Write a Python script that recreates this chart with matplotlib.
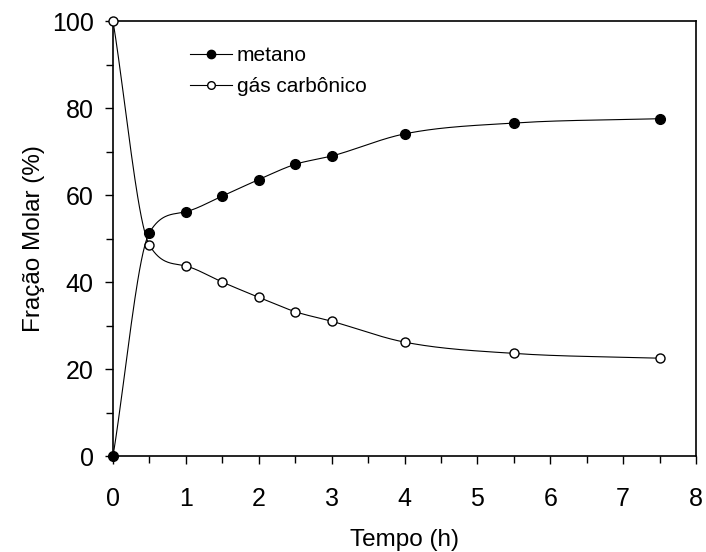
import matplotlib
matplotlib.use("Agg")
import matplotlib.pyplot as plt
import numpy as np

# --- data ---
tempo = [0, 0.5, 1, 1.5, 2, 2.5, 3, 4, 5.5, 7.5]
metano = [0, 51.4, 56.2, 59.8, 63.6, 67.1, 69.0, 74.1, 76.6, 77.6]
gas_carbonico = [100, 48.5, 43.7, 40.0, 36.5, 33.2, 31.0, 26.2, 23.6, 22.5]

x_ticks = [0, 1, 2, 3, 4, 5, 6, 7, 8]
y_ticks = [0, 20, 40, 60, 80, 100]


def smooth_curve(x, y, n=600):
    """Monotone (Fritsch-Carlson) cubic through the points, for the drawn line."""
    x = np.asarray(x, float)
    y = np.asarray(y, float)
    h = np.diff(x)
    d = np.diff(y) / h
    m = np.empty_like(y)
    m[0], m[-1] = d[0], d[-1]
    m[1:-1] = (d[:-1] + d[1:]) / 2
    for k in range(len(d)):
        if d[k] == 0:
            m[k] = m[k + 1] = 0
            continue
        a, b = m[k] / d[k], m[k + 1] / d[k]
        s = a * a + b * b
        if s > 9:
            t = 3 / np.sqrt(s)
            m[k], m[k + 1] = t * a * d[k], t * b * d[k]
    xs = np.linspace(x[0], x[-1], n)
    i = np.clip(np.searchsorted(x, xs) - 1, 0, len(x) - 2)
    t = (xs - x[i]) / h[i]
    h00 = 2 * t**3 - 3 * t**2 + 1
    h10 = t**3 - 2 * t**2 + t
    h01 = -2 * t**3 + 3 * t**2
    h11 = t**3 - t**2
    ys = h00 * y[i] + h10 * h[i] * m[i] + h01 * y[i + 1] + h11 * h[i] * m[i + 1]
    return xs, ys


plt.rcParams["font.family"] = ["Liberation Sans", "DejaVu Sans"]

fig = plt.figure(figsize=(7.06, 5.52), dpi=100)
ax = fig.add_axes([0.1601, 0.1739, 0.8258, 0.7875])

for vals in (metano, gas_carbonico):
    xs, ys = smooth_curve(tempo, vals)
    ax.plot(xs, ys, color="black", linewidth=0.8, zorder=2)

ax.plot(tempo, metano, linestyle="none", marker="o", markersize=7,
        markerfacecolor="black", markeredgecolor="black", zorder=3, clip_on=False)
ax.plot(tempo, gas_carbonico, linestyle="none", marker="o", markersize=6.5,
        markerfacecolor="white", markeredgecolor="black", markeredgewidth=1.0,
        zorder=3, clip_on=False)

# legend handles: line through marker
h1, = ax.plot([], [], color="black", linewidth=0.8, marker="o", markersize=6,
              markerfacecolor="black", markeredgecolor="black")
h2, = ax.plot([], [], color="black", linewidth=0.8, marker="o", markersize=5.5,
              markerfacecolor="white", markeredgecolor="black")
ax.legend([h1, h2], ["metano", "gás carbônico"], loc="upper left",
          bbox_to_anchor=(0.132, 0.943), frameon=False, fontsize=15,
          handlelength=2.0, handletextpad=0.25, labelspacing=0.58,
          borderaxespad=0, borderpad=0)

ax.set_xlim(0, 8)
ax.set_ylim(0, 100)
ax.set_xticks(x_ticks)
ax.set_yticks(y_ticks)
ax.set_xticks(np.arange(0.5, 8, 1.0), minor=True)
ax.set_yticks(np.arange(10, 100, 20), minor=True)
ax.tick_params(axis="both", which="major", direction="out", length=6,
               width=1.0, labelsize=18, top=False, right=False)
ax.tick_params(axis="both", which="minor", direction="out", length=5,
               width=1.0, top=False, right=False)
ax.tick_params(axis="y", which="major", pad=8)
ax.tick_params(axis="x", which="major", pad=16)
for sp in ax.spines.values():
    sp.set_linewidth(1.2)

ax.set_xlabel("Tempo (h)", fontsize=17.5, labelpad=13)
ax.set_ylabel("Fração Molar (%)", fontsize=17.5, labelpad=5)

fig.savefig("out.png", dpi=100)
